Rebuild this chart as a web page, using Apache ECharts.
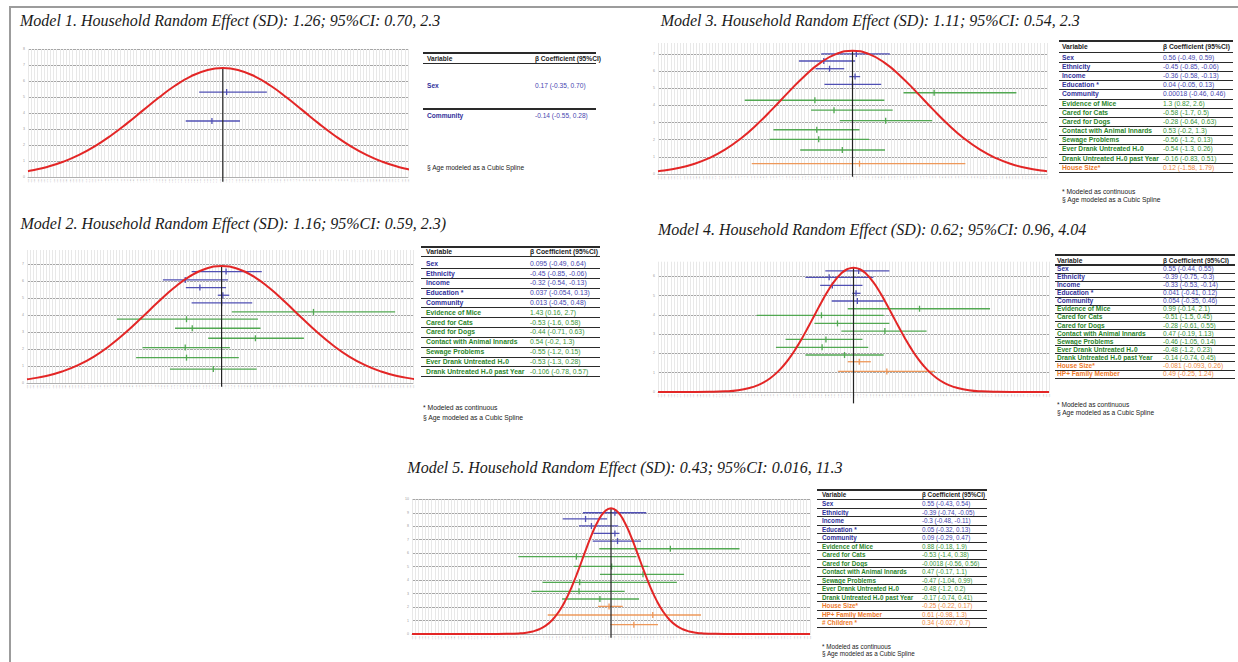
<!DOCTYPE html>
<html>
<head>
<meta charset="utf-8">
<title>Household Random Effect models</title>
<script src="https://cdn.jsdelivr.net/npm/echarts@6.0.0/dist/echarts.min.js"></script>
<style>
html,body{margin:0;padding:0;background:#ffffff;}
#wrap{position:relative;width:1238px;height:662px;overflow:hidden;background:#fff;}
#chart{position:absolute;left:0;top:0;width:1238px;height:662px;}
.frame-top{position:absolute;left:9px;top:6px;width:1229px;height:1.5px;background:#9c9c9c;}
.frame-left{position:absolute;left:9px;top:6px;width:1.5px;height:656px;background:#9c9c9c;}
.ttl{position:absolute;font-family:'Liberation Serif','Times New Roman',serif;font-style:italic;font-size:16px;line-height:16px;white-space:nowrap;color:#1a1a1a;}
.tx{position:absolute;white-space:nowrap;font-family:'Liberation Sans Narrow','Arial Narrow','Liberation Sans',Arial,sans-serif;line-height:8px;}
.rule{position:absolute;background:#2a2a2a;}
</style>
</head>
<body>
<div id="wrap">
  <div id="chart"></div>
  <div class="frame-top"></div>
  <div class="frame-left"></div>
</div>
<script>
// ---------------- DATA ----------------
const TITLES = [
  'Model 1. Household Random Effect (SD): 1.26; 95%CI: 0.70, 2.3',
  'Model 2. Household Random Effect (SD): 1.16; 95%CI: 0.59, 2.3)',
  'Model 3. Household Random Effect (SD): 1.11; 95%CI: 0.54, 2.3',
  'Model 4. Household Random Effect (SD): 0.62; 95%CI: 0.96, 4.04',
  'Model 5. Household Random Effect (SD): 0.43; 95%CI: 0.016, 11.3'
];
const HEADER = ['Variable', 'β Coefficient (95%CI)'];
const FOOT_CONT = '* Modeled as continuous';
const FOOT_AGE = '§ Age modeled as a Cubic Spline';

// Model 1
const M1_VARS = ['Sex', 'Community'];
const M1_COEF = ['0.17 (-0.35, 0.70)', '-0.14 (-0.55, 0.28)'];
const M1_GROUP = [0, 0];
const M1_ROW = [5.31, 3.5];
const M1_EST = [0.06, -0.17];
const M1_LO = [-0.37, -0.58];
const M1_HI = [0.69, 0.27];

// Model 2
const M2_VARS = ['Sex', 'Ethnicity', 'Income', 'Education *', 'Community', 'Evidence of Mice', 'Cared for Cats', 'Cared for Dogs', 'Contact with Animal Innards', 'Sewage Problems', 'Ever Drank Untreated H₂0', 'Drank Untreated H₂0 past Year'];
const M2_COEF = ['0.095 (-0.49, 0.64)', '-0.45 (-0.85, -0.06)', '-0.32 (-0.54, -0.13)', '0.037 (-0.054, 0.13)', '0.013 (-0.45, 0.48)', '1.43 (0.16, 2.7)', '-0.53 (-1.6, 0.58)', '-0.44 (-0.71, 0.63)', '0.54 (-0.2, 1.3)', '-0.55 (-1.2, 0.15)', '-0.53 (-1.3, 0.28)', '-0.106 (-0.78, 0.57)'];
const M2_GROUP = [0, 0, 0, 0, 0, 1, 1, 1, 1, 1, 1, 1];
const M2_ROW = [6.55, 6.06, 5.61, 5.16, 4.71, 4.18, 3.75, 3.22, 2.63, 2.08, 1.49, 0.82];
const M2_EST = [0.07, -0.57, -0.34, 0.02, 0, 1.44, -0.55, -0.46, 0.53, -0.57, -0.55, -0.13];
const M2_LO = [-0.47, -0.92, -0.56, -0.06, -0.47, 0.16, -1.64, -0.73, -0.21, -1.24, -1.34, -0.81];
const M2_HI = [0.63, 0.1, 0.07, 0.12, 0.48, 2.72, 0.57, 0.61, 1.29, 0.13, 0.27, 0.55];

// Model 3
const M3_VARS = ['Sex', 'Ethnicity', 'Income', 'Education *', 'Community', 'Evidence of Mice', 'Cared for Cats', 'Cared for Dogs', 'Contact with Animal Innards', 'Sewage Problems', 'Ever Drank Untreated H₂0', 'Drank Untreated H₂0 past Year', 'House Size*'];
const M3_COEF = ['0.56 (-0.49, 0.59)', '-0.45 (-0.85, -0.06)', '-0.36 (-0.58, -0.13)', '0.04 (-0.05, 0.13)', '0.00018 (-0.46, 0.46)', '1.3 (0.82, 2.6)', '-0.58 (-1.7, 0.5)', '-0.28 (-0.64, 0.63)', '0.53 (-0.2, 1.3)', '-0.56 (-1.2, 0.13)', '-0.54 (-1.3, 0.26)', '-0.16 (-0.83, 0.51)', '0.12 (-1.58, 1.79)'];
const M3_GROUP = [0, 0, 0, 0, 0, 1, 1, 1, 1, 1, 1, 1, 2];
const M3_ROW = [7.0, 6.59, 6.14, 5.68, 5.23, 4.74, 4.30, 3.72, 3.11, 2.58, 2.02, 1.40, 0.60];
const M3_EST = [0.06, -0.45, -0.36, 0.04, 0, 1.28, -0.59, -0.29, 0.52, -0.56, -0.53, -0.16, 0.11];
const M3_LO = [-0.49, -0.84, -0.58, -0.05, -0.44, 0.8, -1.69, -0.65, -0.2, -1.24, -1.3, -0.82, -1.58];
const M3_HI = [0.585, 0.04, -0.13, 0.12, 0.45, 2.57, 0.5, 0.63, 1.25, 0.11, 0.26, 0.51, 1.77];

// Model 4
const M4_VARS = ['Sex', 'Ethnicity', 'Income', 'Education *', 'Community', 'Evidence of Mice', 'Cared for Cats', 'Cared for Dogs', 'Contact with Animal Innards', 'Sewage Problems', 'Ever Drank Untreated H₂0', 'Drank Untreated H₂0 past Year', 'House Size*', 'HP+ Family Member'];
const M4_COEF = ['0.55 (-0.44, 0.55)', '-0.39 (-0.75, -0.3)', '-0.33 (-0.53, -0.14)', '0.041 (-0.41, 0.12)', '0.054 (-0.35, 0.46)', '0.99 (-0.14, 2.1)', '-0.51 (-1.5, 0.45)', '-0.28 (-0.61, 0.55)', '0.47 (-0.19, 1.13)', '-0.46 (-1.05, 0.14)', '-0.48 (-1.2, 0.23)', '-0.14 (-0.74, 0.45)', '-0.081 (-0.093, 0.26)', '0.49 (-0.25, 1.24)'];
const M4_GROUP = [0, 0, 0, 0, 0, 1, 1, 1, 1, 1, 1, 1, 2, 2];
const M4_ROW = [6.28, 5.95, 5.53, 5.12, 4.72, 4.32, 3.98, 3.56, 3.16, 2.73, 2.32, 1.92, 1.57, 1.07];
const M4_EST = [0.08, -0.38, -0.33, 0.04, 0.06, 1.03, -0.5, -0.25, 0.49, -0.43, -0.49, -0.14, 0.09, 0.52];
const M4_LO = [-0.44, -0.75, -0.52, -0.02, -0.34, -0.09, -1.51, -0.61, -0.19, -1.06, -1.21, -0.75, -0.09, -0.24];
const M4_HI = [0.56, 0.31, 0.14, 0.11, 0.47, 2.13, 0.47, 0.56, 1.14, 0.14, 0.23, 0.47, 0.27, 1.27];

// Model 5
const M5_VARS = ['Sex', 'Ethnicity', 'Income', 'Education *', 'Community', 'Evidence of Mice', 'Cared for Cats', 'Cared for Dogs', 'Contact with Animal Innards', 'Sewage Problems', 'Ever Drank Untreated H₂0', 'Drank Untreated H₂0 past Year', 'House Size*', 'HP+ Family Member', '# Children *'];
const M5_COEF = ['0.55 (-0.43, 0.54)', '-0.39 (-0.74, -0.05)', '-0.3 (-0.48, -0.11)', '0.05 (-0.32, 0.13)', '0.09 (-0.29, 0.47)', '0.88 (-0.18, 1.9)', '-0.53 (-1.4, 0.38)', '-0.0018 (-0.56, 0.56)', '0.47 (-0.17, 1.1)', '-0.47 (-1.04, 0.99)', '-0.48 (-1.2, 0.2)', '-0.17 (-0.74, 0.41)', '-0.25 (-0.22, 0.17)', '0.61 (-0.98, 1.3)', '0.34 (-0.027, 0.7)'];
const M5_GROUP = [0, 0, 0, 0, 0, 1, 1, 1, 1, 1, 1, 1, 2, 2, 2];
const M5_ROW = [9.0, 8.54, 8.02, 7.47, 6.9, 6.33, 5.74, 5.02, 4.43, 3.84, 3.17, 2.6, 2.05, 1.41, 0.69];
const M5_EST = [0.06, -0.39, -0.30, 0.06, 0.10, 0.91, -0.53, 0.01, 0.49, -0.48, -0.49, -0.17, -0.03, 0.64, 0.35];
const M5_LO = [-0.43, -0.74, -0.49, -0.27, -0.28, -0.18, -1.42, -0.57, -0.17, -1.05, -1.22, -0.75, -0.2, -0.97, -0.01];
const M5_HI = [0.54, -0.06, 0.11, 0.13, 0.46, 1.97, 0.39, 0.57, 1.12, 1.01, 0.21, 0.43, 0.18, 1.38, 0.72];

// Household random-effect curves (relative height)
const CURVE_X_WIDE = [-3.05, -3, -2.75, -2.5, -2.25, -2, -1.75, -1.5, -1.25, -1, -0.75, -0.5, -0.25, 0, 0.25, 0.5, 0.75, 1, 1.25, 1.5, 1.75, 2, 2.25, 2.5, 2.75, 3, 3.05];
const CURVE1_Y = [0.0534, 0.0588, 0.0924, 0.1397, 0.2030, 0.2837, 0.3812, 0.4923, 0.6114, 0.7298, 0.8377, 0.9243, 0.9805, 1, 0.9805, 0.9243, 0.8377, 0.7298, 0.6114, 0.4923, 0.3812, 0.2837, 0.2030, 0.1397, 0.0924, 0.0588, 0.0534];
const CURVE2_Y = [0.0315, 0.0353, 0.0602, 0.0980, 0.1524, 0.2262, 0.3205, 0.4334, 0.5596, 0.6896, 0.8114, 0.9113, 0.9770, 1, 0.9770, 0.9113, 0.8114, 0.6896, 0.5596, 0.4334, 0.3205, 0.2262, 0.1524, 0.0980, 0.0602, 0.0353, 0.0315];
const CURVE3_Y = [0.0229, 0.0259, 0.0465, 0.0792, 0.1282, 0.1973, 0.2886, 0.4013, 0.5304, 0.6664, 0.7959, 0.9035, 0.9750, 1, 0.9750, 0.9035, 0.7959, 0.6664, 0.5304, 0.4013, 0.2886, 0.1973, 0.1282, 0.0792, 0.0465, 0.0259, 0.0229];
const CURVE4_X = [-3.05, -2.5, -2.25, -2, -1.8, -1.6, -1.5, -1.4, -1.3, -1.2, -1.1, -1, -0.9, -0.8, -0.7, -0.6, -0.5, -0.4, -0.3, -0.2, -0.1, 0, 0.1, 0.2, 0.3, 0.4, 0.5, 0.6, 0.7, 0.8, 0.9, 1, 1.1, 1.2, 1.3, 1.4, 1.5, 1.6, 1.8, 2, 2.25, 2.5, 3.05];
const CURVE4_Y = [0, 0.0003, 0.0014, 0.0055, 0.0148, 0.0358, 0.0536, 0.0781, 0.1110, 0.1537, 0.2072, 0.2723, 0.3487, 0.4350, 0.5287, 0.6261, 0.7224, 0.8121, 0.8895, 0.9493, 0.9871, 1, 0.9871, 0.9493, 0.8895, 0.8121, 0.7224, 0.6261, 0.5287, 0.4350, 0.3487, 0.2723, 0.2072, 0.1537, 0.1110, 0.0781, 0.0536, 0.0358, 0.0148, 0.0055, 0.0014, 0.0003, 0];
const CURVE5_X = [-3.05, -2, -1.8, -1.6, -1.4, -1.3, -1.2, -1.1, -1, -0.9, -0.8, -0.7, -0.6, -0.5, -0.4, -0.3, -0.2, -0.1, 0, 0.1, 0.2, 0.3, 0.4, 0.5, 0.6, 0.7, 0.8, 0.9, 1, 1.1, 1.2, 1.3, 1.4, 1.6, 1.8, 2, 3.05];
const CURVE5_Y = [0, 0, 0.0002, 0.0010, 0.0050, 0.0104, 0.0204, 0.0379, 0.0669, 0.1119, 0.1772, 0.2658, 0.3778, 0.5086, 0.6488, 0.7840, 0.8975, 0.9733, 1, 0.9733, 0.8975, 0.7840, 0.6488, 0.5086, 0.3778, 0.2658, 0.1772, 0.1119, 0.0669, 0.0379, 0.0204, 0.0104, 0.0050, 0.0010, 0.0002, 0, 0];

// Zero reference line extent (in row units)
const ZERO_TOP = [6.81, 6.88, 7.23, 6.45, 9.33];
const ZERO_BOTTOM = [-0.3, -0.22, -0.16, -0.59, -0.27];

// ---------------- LAYOUT / STYLE ----------------
const FOREST_COLORS = ['#5050b4', '#52a852', '#ee985a'];
const VAR_COLORS = ['#30309a', '#2b862b', '#ee7a2a'];
const COEF_COLORS = ['#4646b0', '#389638', '#f0883e'];

const PANELS = [
  {left: 28, top: 49, width: 380, height: 128, xMin: -3.05, xMax: 2.9, yMax: 8, curveMax: 1.175},
  {left: 27, top: 250, width: 386, height: 133, xMin: -3.05, xMax: 3.0, yMax: 7.82, curveMax: 1.137},
  {left: 658, top: 43, width: 389, height: 131, xMin: -3.05, xMax: 3.05, yMax: 7.64, curveMax: 1.063},
  {left: 658, top: 261.7, width: 391, height: 130.3, xMin: -3.05, xMax: 3.05, yMax: 6.76, curveMax: 1.048},
  {left: 412, top: 499.3, width: 398, height: 134.7, xMin: -3.05, xMax: 3.05, yMax: 10, curveMax: 1.072}
];
const TITLE_POS = [[20, 13.3], [20.5, 215.9], [660.7, 13.3], [658, 222.3], [407.3, 459.9]];

const MODELS = [
  {vars: M1_VARS, coef: M1_COEF, group: M1_GROUP, row: M1_ROW, est: M1_EST, lo: M1_LO, hi: M1_HI, cx: CURVE_X_WIDE, cy: CURVE1_Y},
  {vars: M2_VARS, coef: M2_COEF, group: M2_GROUP, row: M2_ROW, est: M2_EST, lo: M2_LO, hi: M2_HI, cx: CURVE_X_WIDE, cy: CURVE2_Y},
  {vars: M3_VARS, coef: M3_COEF, group: M3_GROUP, row: M3_ROW, est: M3_EST, lo: M3_LO, hi: M3_HI, cx: CURVE_X_WIDE, cy: CURVE3_Y},
  {vars: M4_VARS, coef: M4_COEF, group: M4_GROUP, row: M4_ROW, est: M4_EST, lo: M4_LO, hi: M4_HI, cx: CURVE4_X, cy: CURVE4_Y},
  {vars: M5_VARS, coef: M5_COEF, group: M5_GROUP, row: M5_ROW, est: M5_EST, lo: M5_LO, hi: M5_HI, cx: CURVE5_X, cy: CURVE5_Y}
];

// ---------------- CHART ----------------
const grids = [], xAxes = [], yAxes = [], series = [];
PANELS.forEach(function (p, i) {
  const m = MODELS[i];
  const intTop = Math.abs(p.yMax - Math.round(p.yMax)) < 1e-9;
  grids.push({left: p.left, top: p.top, width: p.width, height: p.height, containLabel: false, outerBoundsMode: 'none'});
  xAxes.push({
    gridIndex: i, type: 'value', min: p.xMin, max: p.xMax, interval: 0.05,
    axisLine: {show: true, onZero: false, lineStyle: {color: '#b0b0b0', width: 1}},
    axisTick: {show: false},
    axisLabel: {show: true, fontSize: 1.7, color: '#808080', margin: 2, rotate: 90, hideOverlap: false,
      formatter: function (v) { return v.toFixed(2); }},
    splitLine: {show: true, lineStyle: {color: '#e8e8e8', width: 1}}
  });
  yAxes.push({
    gridIndex: i, type: 'value', min: 0, max: p.yMax, interval: 1,
    axisLine: {show: false},
    axisTick: {show: true, length: 2, lineStyle: {color: '#c0c0c0'}},
    axisLabel: {show: true, fontSize: 3.5, color: '#999', margin: 3, showMaxLabel: intTop,
      formatter: function (v) { return String(Math.round(v)); }},
    splitLine: {show: true, showMaxLine: intTop, lineStyle: {color: '#a6a6a6', width: 1}}
  });
  yAxes.push({gridIndex: i, type: 'value', min: 0, max: p.curveMax, show: false, splitLine: {show: false}});

  const rows = m.vars.map(function (_, k) { return [m.lo[k], m.hi[k], m.est[k], m.row[k], m.group[k]]; });
  series.push({
    type: 'custom', xAxisIndex: i, yAxisIndex: 2 * i, data: rows, silent: true,
    encode: {x: [0, 1, 2], y: 3},
    renderItem: function (params, api) {
      const y = api.value(3);
      const a = api.coord([api.value(0), y]);
      const b = api.coord([api.value(1), y]);
      const e = api.coord([api.value(2), y]);
      const c = FOREST_COLORS[api.value(4)];
      return {type: 'group', children: [
        {type: 'line', shape: {x1: a[0], y1: a[1], x2: b[0], y2: b[1]}, style: {stroke: c, lineWidth: 1.3}},
        {type: 'line', shape: {x1: e[0], y1: e[1] - 3, x2: e[0], y2: e[1] + 3}, style: {stroke: c, lineWidth: 1.3}}
      ]};
    },
    z: 3
  });
  series.push({
    type: 'line', xAxisIndex: i, yAxisIndex: 2 * i, silent: true, clip: false,
    data: [[0, ZERO_BOTTOM[i]], [0, ZERO_TOP[i]]],
    symbol: 'none', lineStyle: {color: '#222', width: 1.2}, z: 4
  });
  series.push({
    type: 'line', xAxisIndex: i, yAxisIndex: 2 * i + 1, silent: true,
    data: m.cx.map(function (x, k) { return [x, m.cy[k]]; }),
    smooth: 0.5, symbol: 'none',
    lineStyle: {color: '#e32626', width: 2}, z: 5
  });
});

const chart = echarts.init(document.getElementById('chart'), null, {renderer: 'svg', width: 1238, height: 662});
chart.setOption({
  animation: false,
  backgroundColor: 'transparent',
  grid: grids, xAxis: xAxes, yAxis: yAxes, series: series
});

// ---------------- TITLES & TABLES (HTML text) ----------------
const wrap = document.getElementById('wrap');
TITLES.forEach(function (t, i) {
  const d = document.createElement('div');
  d.className = 'ttl';
  d.style.left = TITLE_POS[i][0] + 'px';
  d.style.top = TITLE_POS[i][1] + 'px';
  d.textContent = t;
  wrap.appendChild(d);
});

function addText(x, cy, text, size, color, bold) {
  const d = document.createElement('div');
  d.className = 'tx';
  d.style.left = x + 'px';
  d.style.top = (cy - 4) + 'px';
  d.style.fontSize = size + 'px';
  d.style.color = color;
  if (bold) d.style.fontWeight = 'bold';
  d.textContent = text;
  wrap.appendChild(d);
}
function addRule(x, y, w, h) {
  const d = document.createElement('div');
  d.className = 'rule';
  d.style.left = x + 'px';
  d.style.top = (y - h / 2) + 'px';
  d.style.width = w + 'px';
  d.style.height = h + 'px';
  wrap.appendChild(d);
}

const TABLES = [
  {left: 423, width: 173, textX: 4, coefX: 112, fs: 6.6, topRule: 52.7, headY: 59, headRule: 63, headRuleH: 1,
   rowYs: [86, 116], rules: [[109, 1.8]], foot: [[168, FOOT_AGE]], footX: 427},
  {left: 421, width: 179, textX: 5, coefX: 109, fs: 6.8, topRule: 247, headY: 252, headRule: 256.6, headRuleH: 1.4,
   row0: 263.7, rowH: 9.82, foot: [[408, FOOT_CONT], [418, FOOT_AGE]], footX: 423},
  {left: 1059, width: 174, textX: 3, coefX: 104, fs: 6.7, topRule: 41, headY: 47.3, headRule: 52.3, headRuleH: 1.4,
   row0: 57.7, rowH: 9.17, foot: [[192, FOOT_CONT], [200.3, FOOT_AGE]], footX: 1062},
  {left: 1055, width: 180, textX: 2, coefX: 108, fs: 6.6, topRule: 255, headY: 260.7, headRule: 265, headRuleH: 1.4,
   row0: 269, rowH: 8.08, foot: [[405, FOOT_CONT], [413.3, FOOT_AGE]], footX: 1057},
  {left: 817, width: 170, textX: 5, coefX: 105, fs: 6.3, topRule: 490, headY: 495, headRule: 499.5, headRuleH: 1.4,
   row0: 504, rowH: 8.5, foot: [[646.7, FOOT_CONT], [654, FOOT_AGE]], footX: 822}
];

TABLES.forEach(function (t, i) {
  const m = MODELS[i];
  addRule(t.left, t.topRule, t.width, 1.8);
  addText(t.left + t.textX, t.headY, HEADER[0], t.fs, '#222', true);
  addText(t.left + t.coefX, t.headY, HEADER[1], t.fs, '#222', true);
  addRule(t.left, t.headRule, t.width, t.headRuleH);
  const ys = t.rowYs ? t.rowYs : m.vars.map(function (_, k) { return t.row0 + k * t.rowH; });
  m.vars.forEach(function (v, k) {
    addText(t.left + t.textX, ys[k], v, t.fs, VAR_COLORS[m.group[k]], true);
    addText(t.left + t.coefX, ys[k], m.coef[k], t.fs, COEF_COLORS[m.group[k]], false);
    if (!t.rowYs) addRule(t.left, ys[k] + t.rowH / 2, t.width, 0.9);
  });
  if (t.rules) t.rules.forEach(function (r) { addRule(t.left, r[0], t.width, r[1]); });
  t.foot.forEach(function (f) { addText(t.footX, f[0], f[1], t.fs, '#222', false); });
});
</script>
</body>
</html>
